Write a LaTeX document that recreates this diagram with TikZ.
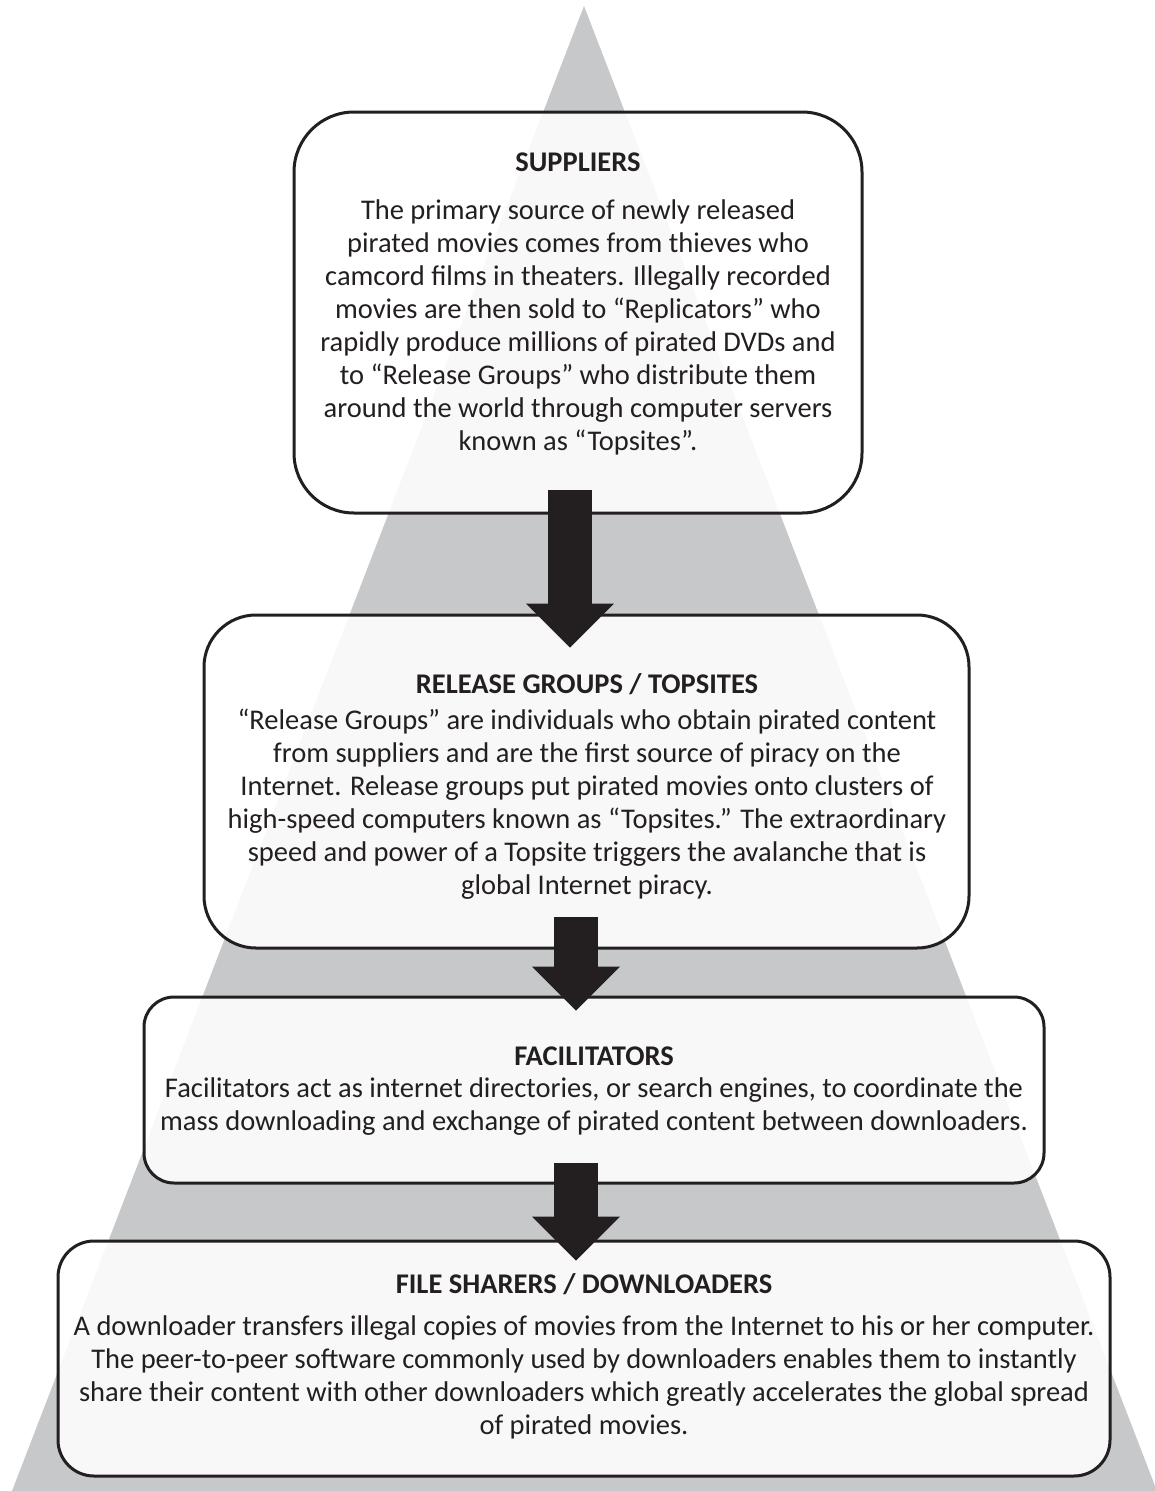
\documentclass[tikz,border=0pt]{standalone}
\usepackage{fontspec}
\setmainfont{Carlito}
\usetikzlibrary{arrows.meta,calc}
\definecolor{tri}{RGB}{199,200,202}
\definecolor{ink}{RGB}{35,31,32}
\tikzset{
  box/.style={draw=ink, line width=3pt, fill=white, fill opacity=0.88, inner sep=0pt},
  ttl/.style={text=ink, font=\bfseries\fontsize{28.5}{33}\selectfont, inner sep=0pt, anchor=center},
  body/.style={text=ink, font=\fontsize{28.5}{33}\selectfont, align=center, inner sep=0pt, anchor=north},
  bigarrow/.style={draw=ink, fill=ink, line width=44pt, line cap=butt,
    -{Triangle[width=88pt,length=44pt,line width=0pt]}}
}
\begin{document}
\begin{tikzpicture}[x=1pt,y=-1pt]
\useasboundingbox (0,0) rectangle (1154,1491);
\fill[tri] (584,6) -- (12,1491) -- (1157,1491) -- cycle;

\node[box, rounded corners=60pt, minimum width=568pt, minimum height=401pt] (b1) at (578,312.5) {};
\node[box, rounded corners=52pt, minimum width=765pt, minimum height=333pt] (b2) at (586.5,781.5) {};
\node[box, rounded corners=30pt, minimum width=900pt, minimum height=186pt] (b3) at (594,1090) {};
\node[box, rounded corners=36pt, minimum width=1052pt, minimum height=235pt] (b4) at (584,1358.5) {};

\node[ttl] (t1) at (578,162) {SUPPLIERS};
\node[body] (d1) at (578,200) {The primary source of newly released\\
pirated movies comes from thieves who\\
camcord films in theaters. Illegally recorded\\
movies are then sold to “Replicators” who\\
rapidly produce millions of pirated DVDs and\\
to “Release Groups” who distribute them\\
around the world through computer servers\\
known as “Topsites”.};

\node[ttl] (t2) at (587,684) {RELEASE GROUPS / TOPSITES};
\node[body] (d2) at (587,709) {“Release Groups” are individuals who obtain pirated content\\
from suppliers and are the first source of piracy on the\\
Internet. Release groups put pirated movies onto clusters of\\
high-speed computers known as “Topsites.” The extraordinary\\
speed and power of a Topsite triggers the avalanche that is\\
global Internet piracy.};

\node[ttl] (t3) at (594,1056) {FACILITATORS};
\node[body] (d3) at (594,1077) {Facilitators act as internet directories, or search engines, to coordinate the\\
mass downloading and exchange of pirated content between downloaders.};

\node[ttl] (t4) at (584,1284) {FILE SHARERS / DOWNLOADERS};
\node[body] (d4) at (584,1315) {A downloader transfers illegal copies of movies from the Internet to his or her computer.\\
The peer-to-peer software commonly used by downloaders enables them to instantly\\
share their content with other downloaders which greatly accelerates the global spread\\
of pirated movies.};

\draw[bigarrow] ([xshift=-8pt,yshift=25pt]b1.south) -- ([xshift=-16.5pt,yshift=-34pt]b2.north);
\draw[bigarrow] ([xshift=-10.5pt,yshift=33pt]b2.south) -- ([xshift=-18pt,yshift=-15pt]b3.north);
\draw[bigarrow] ([xshift=-18pt,yshift=22pt]b3.south) -- ([xshift=-8pt,yshift=-21pt]b4.north);
\end{tikzpicture}
\end{document}
